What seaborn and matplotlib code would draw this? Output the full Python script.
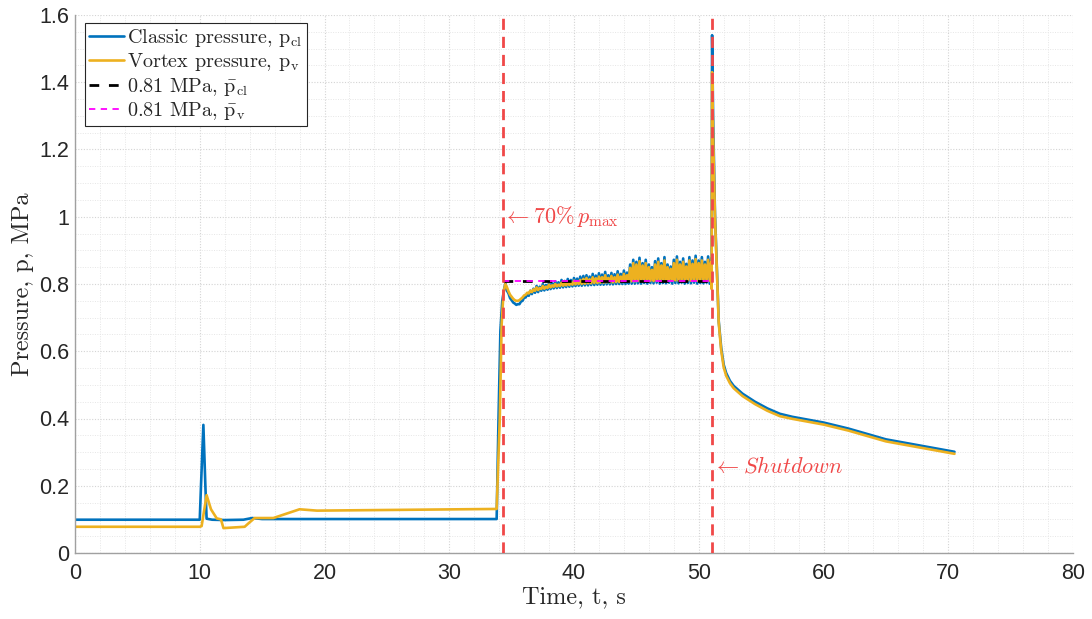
import numpy as np
import pandas as pd
import matplotlib
matplotlib.use("Agg")
import matplotlib.pyplot as plt
from matplotlib.ticker import MultipleLocator, FuncFormatter
import seaborn as sns

# ---------------- data ----------------
# Classic pressure (blue): start-up part
cl_pre_t = [0.0, 10.0, 10.1, 10.29, 10.45, 10.55, 11.0, 12.0, 13.5, 14.2, 15.0, 20.0, 30.0, 33.8, 33.95, 34.1, 34.25, 34.4]
cl_pre_v = [0.099, 0.099, 0.20, 0.381, 0.20, 0.102, 0.099, 0.098, 0.099, 0.104, 0.101, 0.101, 0.101, 0.101, 0.40, 0.66, 0.75, 0.785]

# Plateau (34.5 s .. 51 s): peaks read every 0.25 s, troughs in between
plateau_peak_t = list(np.round(np.arange(34.5, 51.001, 0.25), 3))
plateau_trough_t = list(np.round(np.arange(34.625, 50.9, 0.25), 3))

cl_peak_v = [0.802, 0.772, 0.752, 0.742, 0.740, 0.748, 0.760, 0.770, 0.780, 0.786,
             0.794, 0.792, 0.800, 0.797, 0.804, 0.802, 0.808, 0.805, 0.812, 0.809,
             0.815, 0.812, 0.818, 0.816, 0.822, 0.824, 0.826, 0.822, 0.830, 0.825,
             0.832, 0.828, 0.836, 0.826, 0.833, 0.829, 0.838, 0.830, 0.840, 0.834,
             0.858, 0.872, 0.866, 0.878, 0.862, 0.872, 0.858, 0.850, 0.868, 0.876,
             0.862, 0.880, 0.858, 0.852, 0.872, 0.882, 0.866, 0.876, 0.860, 0.880,
             0.870, 0.884, 0.870, 0.880, 0.866, 0.882, 0.875]
cl_trough_v = [0.780, 0.758, 0.745, 0.738, 0.740, 0.750, 0.760, 0.765, 0.770, 0.774,
               0.776, 0.780, 0.781, 0.783, 0.785, 0.787, 0.788, 0.789, 0.790, 0.791,
               0.792, 0.793, 0.794, 0.795, 0.795, 0.796, 0.796, 0.797, 0.797, 0.798,
               0.798, 0.798, 0.799, 0.799, 0.799, 0.800, 0.800, 0.800, 0.800, 0.801,
               0.801, 0.801, 0.802, 0.801, 0.803, 0.801, 0.803, 0.802, 0.804, 0.801,
               0.803, 0.802, 0.804, 0.801, 0.803, 0.802, 0.804, 0.801, 0.803, 0.802,
               0.804, 0.801, 0.803, 0.802, 0.804, 0.801]

cl_post_t = [51.03, 51.07, 51.15, 51.3, 51.6, 51.8, 52.0, 52.2, 52.5, 52.8, 53.5, 54.5, 55.5, 56.5, 57.5, 60.0, 62.0, 65.0, 68.0, 70.5]
cl_post_v = [0.790, 1.540, 1.300, 1.010, 0.690, 0.610, 0.560, 0.535, 0.512, 0.497, 0.474, 0.450, 0.430, 0.414, 0.405, 0.388, 0.370, 0.338, 0.318, 0.301]

# Vortex pressure (orange)
v_pre_t = [0.0, 10.0, 10.15, 10.55, 10.9, 11.36, 11.7, 11.9, 13.6, 13.9, 14.4, 15.9, 18.0, 19.4, 25.0, 33.8, 34.05, 34.2, 34.35]
v_pre_v = [0.078, 0.078, 0.080, 0.172, 0.130, 0.103, 0.100, 0.074, 0.078, 0.088, 0.104, 0.104, 0.130, 0.126, 0.128, 0.131, 0.40, 0.68, 0.775]

v_peak_v = [0.800, 0.778, 0.762, 0.752, 0.750, 0.756, 0.766, 0.774, 0.780, 0.784,
            0.790, 0.788, 0.794, 0.792, 0.798, 0.796, 0.800, 0.798, 0.804, 0.802,
            0.806, 0.804, 0.810, 0.808, 0.812, 0.815, 0.818, 0.814, 0.820, 0.817,
            0.822, 0.820, 0.826, 0.818, 0.824, 0.820, 0.828, 0.822, 0.830, 0.826,
            0.848, 0.862, 0.858, 0.868, 0.855, 0.862, 0.850, 0.842, 0.858, 0.866,
            0.855, 0.870, 0.850, 0.845, 0.862, 0.872, 0.858, 0.866, 0.852, 0.870,
            0.860, 0.874, 0.862, 0.870, 0.858, 0.872, 0.865]
v_trough_v = [0.790, 0.768, 0.756, 0.750, 0.752, 0.760, 0.768, 0.772, 0.776, 0.780,
              0.782, 0.785, 0.786, 0.788, 0.790, 0.792, 0.793, 0.794, 0.795, 0.796,
              0.797, 0.798, 0.799, 0.800, 0.800, 0.801, 0.802, 0.802, 0.803, 0.803,
              0.804, 0.804, 0.805, 0.805, 0.805, 0.806, 0.806, 0.806, 0.807, 0.807,
              0.808, 0.808, 0.809, 0.808, 0.810, 0.809, 0.810, 0.809, 0.810, 0.809,
              0.810, 0.810, 0.811, 0.810, 0.811, 0.810, 0.811, 0.810, 0.811, 0.810,
              0.811, 0.810, 0.811, 0.810, 0.811, 0.810]

v_post_t = [51.03, 51.07, 51.15, 51.3, 51.6, 51.8, 52.0, 52.2, 52.5, 52.8, 53.5, 54.5, 55.5, 56.5, 57.5, 60.0, 62.0, 65.0, 68.0, 70.5]
v_post_v = [0.785, 1.430, 1.250, 1.000, 0.685, 0.602, 0.552, 0.527, 0.505, 0.490, 0.467, 0.443, 0.423, 0.407, 0.399, 0.382, 0.364, 0.332, 0.312, 0.295]

mean_cl = 0.81
mean_v = 0.81
t_start = 34.3      # 70 % p_max
t_shutdown = 51.1   # shutdown

legend_labels = [r"Classic pressure, $\mathrm{p_{cl}}$",
                 r"Vortex pressure, $\mathrm{p_{v}}$",
                 r"0.81 MPa, $\mathrm{\bar{p}_{cl}}$",
                 r"0.81 MPa, $\mathrm{\bar{p}_{v}}$"]

# ---------------- build frames ----------------
def series(pre_t, pre_v, peak_v, trough_v, post_t, post_v):
    d = pd.DataFrame({"t": pre_t + plateau_peak_t + plateau_trough_t + post_t,
                      "p": pre_v + peak_v + trough_v + post_v})
    return d.sort_values("t").reset_index(drop=True)

df_cl = series(cl_pre_t, cl_pre_v, cl_peak_v, cl_trough_v, cl_post_t, cl_post_v)
df_v = series(v_pre_t, v_pre_v, v_peak_v, v_trough_v, v_post_t, v_post_v)
df_mean = pd.DataFrame({"t": [t_start, t_shutdown], "cl": [mean_cl, mean_cl], "v": [mean_v, mean_v]})

# ---------------- style ----------------
sns.set_theme(style="white")
plt.rcParams["mathtext.fontset"] = "cm"
plt.rcParams["font.family"] = ["Liberation Sans", "DejaVu Sans"]

BLUE = "#0072BD"
ORANGE = "#EDB120"
RED = "#F04848"
TXT = "#262626"

fig = plt.figure(figsize=(10.92, 6.19), dpi=100)
ax = fig.add_axes([75 / 1092, 66 / 619, 998 / 1092, 538 / 619])

sns.lineplot(data=df_cl, x="t", y="p", ax=ax, color=BLUE, lw=1.9, estimator=None, sort=False,
             label=legend_labels[0])
sns.lineplot(data=df_v, x="t", y="p", ax=ax, color=ORANGE, lw=1.9, estimator=None, sort=False,
             label=legend_labels[1])
sns.lineplot(data=df_mean, x="t", y="cl", ax=ax, color="black", lw=2.0, estimator=None,
             linestyle=(0, (3.5, 3.5)), label=legend_labels[2])
sns.lineplot(data=df_mean, x="t", y="v", ax=ax, color="#FF00FF", lw=1.3, estimator=None,
             linestyle=(0, (3.5, 3.0)), label=legend_labels[3])

for xv in (t_start, t_shutdown):
    ax.axvline(xv, color=RED, lw=2.0, linestyle=(0, (4, 2.5)), zorder=5)

ax.text(t_start + 0.02, 1.0, r"$\leftarrow 70\%\,p_{\max}$", color=RED, fontsize=16,
        va="center", ha="left", zorder=6)
ax.text(t_shutdown + 0.02, 0.256, r"$\leftarrow \mathit{Shutdown}$", color=RED, fontsize=16,
        va="center", ha="left", zorder=6)

ax.set_xlim(0, 80)
ax.set_ylim(0, 1.6)
ax.xaxis.set_major_locator(MultipleLocator(10))
ax.xaxis.set_minor_locator(MultipleLocator(2))
ax.yaxis.set_major_locator(MultipleLocator(0.2))
ax.yaxis.set_minor_locator(MultipleLocator(0.05))
ax.yaxis.set_major_formatter(FuncFormatter(lambda v, p: f"{v:g}"))

ax.grid(True, which="major", color="#d4d4d4", linestyle=(0, (1, 1.5)), lw=0.8)
ax.grid(True, which="minor", color="#e6e6e6", linestyle=(0, (1, 1.5)), lw=0.7)
ax.set_axisbelow(True)

for s in ("top", "right"):
    ax.spines[s].set_visible(False)
for s in ("left", "bottom"):
    ax.spines[s].set_color("#a0a0a0")
    ax.spines[s].set_linewidth(1.0)

ax.tick_params(axis="both", which="major", direction="in", length=5, width=0.8, color="#606060",
               labelsize=15.5, labelcolor=TXT)
ax.tick_params(axis="x", which="major", pad=7)
ax.tick_params(axis="y", which="major", pad=4)
ax.tick_params(axis="both", which="minor", length=0)

ax.set_xlabel("Time, t, s", family="cmr10", fontsize=17.5, color=TXT, labelpad=2)
ax.set_ylabel("Pressure, p, MPa", family="cmr10", fontsize=17.5, color=TXT, labelpad=4)

leg = ax.legend(loc="upper left", bbox_to_anchor=(10 / 998, 1 - 8 / 538), borderaxespad=0,
                frameon=True, fancybox=False, edgecolor=TXT, framealpha=1,
                prop={"family": "cmr10", "size": 14.5}, handlelength=1.75, handletextpad=0.15,
                borderpad=0.2, labelspacing=0.12)
leg.get_frame().set_linewidth(0.8)

fig.savefig("out.png", dpi=100)
